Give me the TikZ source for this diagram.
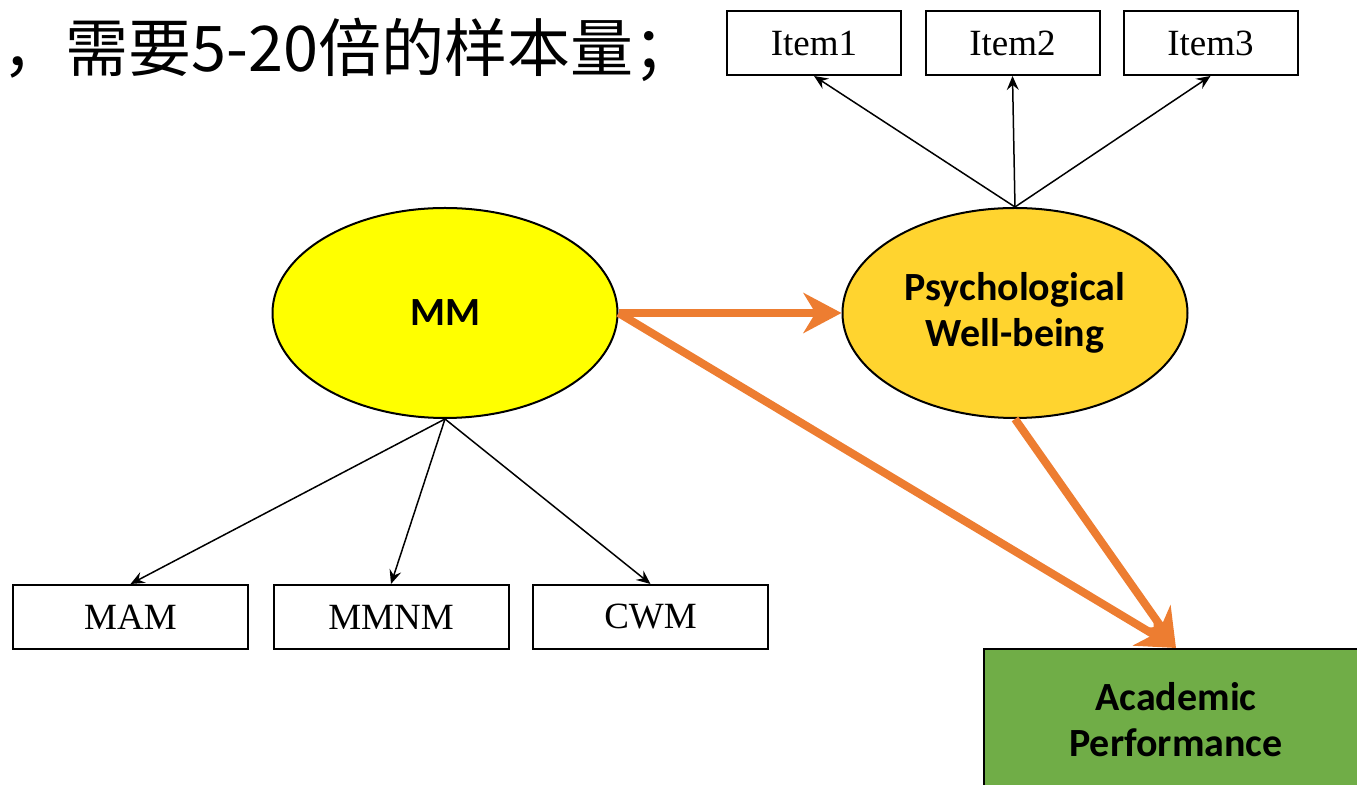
\documentclass[tikz,border=0pt]{standalone}
\usepackage{fontspec}
\setmainfont{Liberation Serif}
\newfontfamily\cjk{Noto Sans CJK SC}
\newfontfamily\calib{Carlito}
\usetikzlibrary{arrows.meta,shapes.geometric}
\definecolor{mmyellow}{HTML}{FFFF00}
\definecolor{pwbgold}{HTML}{FFD42F}
\definecolor{apgreen}{HTML}{70AD47}
\definecolor{pathorange}{HTML}{ED7D31}

\begin{document}
\begin{tikzpicture}[x=0.5pt,y=-0.5pt,
		obs/.style={draw,line width=1pt,inner sep=0pt,minimum height=32pt,font=\fontsize{18.5}{22}\selectfont},
		lat/.style={ellipse,draw,line width=1pt,minimum width=172.5pt,minimum height=105pt,inner sep=0pt,align=center,font=\calib\bfseries\fontsize{20}{23}\selectfont},
		load/.style={-{Stealth[length=7pt,width=6pt,inset=2.5pt]},line width=0.75pt},
		struct/.style={-{Stealth[length=19pt,width=20pt,inset=6pt]},line width=4pt,color=pathorange}]
	\useasboundingbox (0,0) rectangle (1357,785);
	\clip (0,0) rectangle (1357,785);
	\node[anchor=west,inner sep=0pt,font=\cjk\fontsize{31.5}{36}\selectfont] (note) at (2,50) {，需要5-20倍的样本量；};
	\node[lat,fill=mmyellow] (mm) at (445,313) {MM};
	\node[lat,fill=pwbgold] (pwb) at (1015,313) {Psychological\\Well-being};
	\node[obs,minimum width=87pt] (i1) at (814,43) {Item1};
	\node[obs,minimum width=87pt] (i2) at (1012.5,43) {Item2};
	\node[obs,minimum width=87pt] (i3) at (1210.5,43) {Item3};
	\node[obs,minimum width=117.5pt] (mam) at (130.5,617) {MAM};
	\node[obs,minimum width=117.5pt] (mmnm) at (391,617) {MMNM};
	\node[obs,minimum width=117.5pt] (cwm) at (650.5,617) {CWM};
	\node[draw,line width=1pt,fill=apgreen,minimum width=192pt,minimum height=70.5pt,inner sep=0pt,align=center,font=\calib\bfseries\fontsize{20}{23}\selectfont] (ap) at (1176,719.5) {Academic\\Performance};
	\path[load]
	(mm.south) edge (mam.north) edge (mmnm.north) edge (cwm.north)
	(pwb.north) edge (i1.south) edge (i2.south) edge (i3.south);
	\path[struct]
	(mm.east) edge (pwb.west) edge (ap.north)
	(pwb.south) edge (ap.north);
\end{tikzpicture}
\end{document}
